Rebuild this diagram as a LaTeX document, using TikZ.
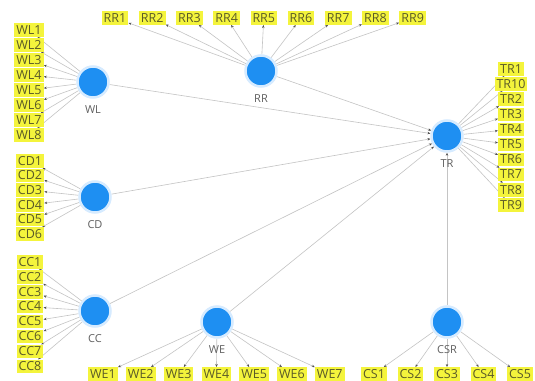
\documentclass[tikz,border=0pt]{standalone}
\usepackage{fontspec}
\setmainfont{Open Sans}
\usetikzlibrary{arrows.meta}
\usetikzlibrary{backgrounds}
\usepackage{xcolor}

\definecolor{hubblue}{HTML}{1E8FF2}
\definecolor{hubglow}{HTML}{D6EBFF}
\definecolor{leafyellow}{HTML}{F4F43C}
\definecolor{leaftext}{HTML}{5A5A28}
\definecolor{linkgray}{HTML}{C4C4C4}
\definecolor{hubtext}{HTML}{606060}

\tikzset{
  hub/.style={circle, fill=hubblue, draw=hubglow, line width=2.5pt, minimum size=31pt, inner sep=0pt},
  hublabel/.style={text=hubtext, font=\fontsize{11}{12}\selectfont, label distance=3pt},
  leaf/.style={fill=leafyellow, text=leaftext, font=\fontsize{12.5}{13}\selectfont,
    inner xsep=2pt, inner ysep=2pt, text height=9pt, text depth=0.5pt},
  link/.style={draw=linkgray, line width=0.6pt, -{Stealth[length=3pt,width=2.4pt,color=black!70]}}
}

\begin{document}
\begin{tikzpicture}[x=1pt,y=-1pt]
      \useasboundingbox (0,0) rectangle (535,380);
      \begin{pgfonlayer}{background}
        \fill[white] (0,0) rectangle (535,380);
      \end{pgfonlayer}

      % Hubs
      \node[hub, label={[hublabel]below:WL}] (WL) at (93,82) {};
      \node[hub, label={[hublabel]below:RR}] (RR) at (261,71) {};
      \node[hub, label={[hublabel]below:TR}] (TR) at (447,136) {};
      \node[hub, label={[hublabel]below:CD}] (CD) at (95,197) {};
      \node[hub, label={[hublabel]below:CC}] (CC) at (95,311) {};
      \node[hub, label={[hublabel]below:WE}] (WE) at (217,322) {};
      \node[hub, label={[hublabel]below:CSR}] (CSR) at (447,322) {};

      % Hub links into TR
      \begin{pgfonlayer}{background}
        \foreach \h in {WL,RR,CD,CC,WE,CSR}
        {
          \draw[link] (\h) -- (TR);
        }
      \end{pgfonlayer}

      % WL leaves
      \foreach \i in {1,...,8}
      {
        \node[leaf] (WL\i) at (29,{30+15*(\i-1)}) {WL\i};
        \begin{pgfonlayer}{background}
          \draw[link] (WL) -- (WL\i);
        \end{pgfonlayer}
      }

      % CD leaves
      \foreach \i in {1,...,6}
      {
        \node[leaf] (CD\i) at (30,{161+14.6*(\i-1)}) {CD\i};
        \begin{pgfonlayer}{background}
          \draw[link] (CD) -- (CD\i);
        \end{pgfonlayer}
      }

      % CC leaves
      \foreach \i in {1,...,8}
      {
        \node[leaf] (CC\i) at (30,{262+14.9*(\i-1)}) {CC\i};
        \begin{pgfonlayer}{background}
          \draw[link] (CC) -- (CC\i);
        \end{pgfonlayer}
      }

      % RR leaves
      \foreach \i in {1,...,9}
      {
        \node[leaf] (RR\i) at ({115+37.2*(\i-1)},18) {RR\i};
        \begin{pgfonlayer}{background}
          \draw[link] (RR) -- (RR\i);
        \end{pgfonlayer}
      }

      % TR leaves
      \foreach \t [count=\k] in {1,10,2,3,4,5,6,7,8,9}
      {
        \node[leaf] (TR\t) at (511,{69+15.1*(\k-1)}) {TR\t};
        \begin{pgfonlayer}{background}
          \draw[link] (TR) -- (TR\t);
        \end{pgfonlayer}
      }

      % WE leaves
      \foreach \i in {1,...,7}
      {
        \node[leaf] (WE\i) at ({103+37.8*(\i-1)},374) {WE\i};
        \begin{pgfonlayer}{background}
          \draw[link] (WE) -- (WE\i);
        \end{pgfonlayer}
      }

      % CS leaves
      \foreach \i in {1,...,5}
      {
        \node[leaf] (CS\i) at ({374+36.5*(\i-1)},374) {CS\i};
        \begin{pgfonlayer}{background}
          \draw[link] (CSR) -- (CS\i);
        \end{pgfonlayer}
      }

  \end{tikzpicture}
\end{document}
